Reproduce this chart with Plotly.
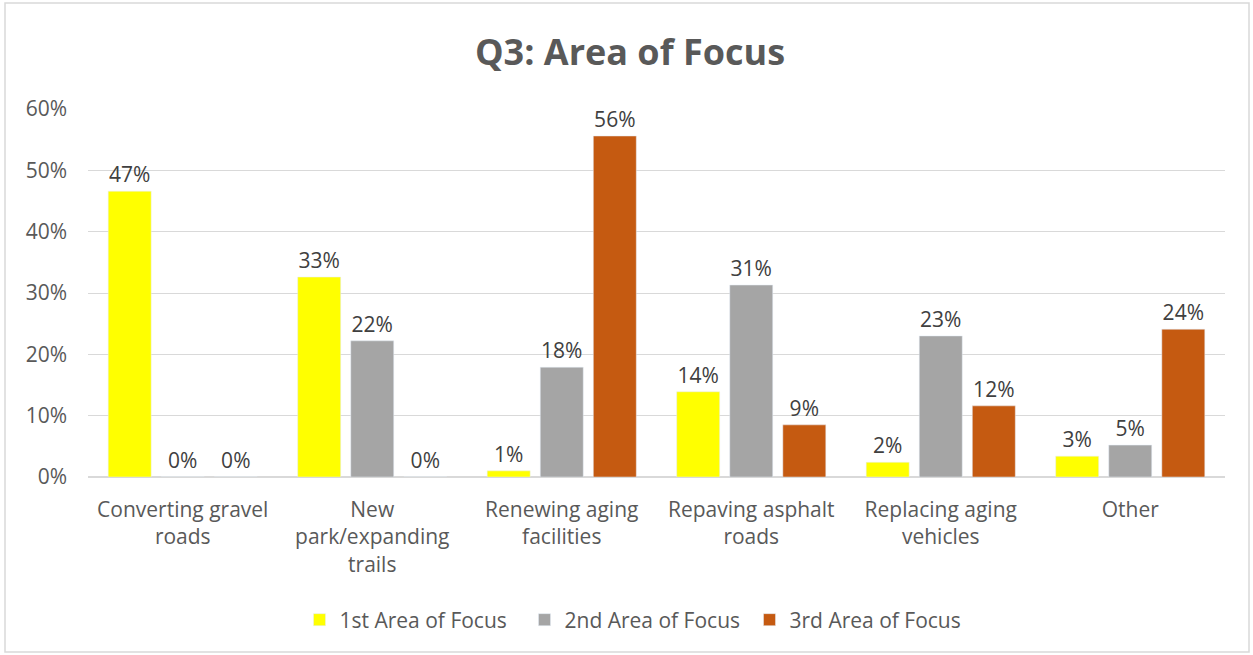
import plotly.graph_objects as go

categories = ["Converting gravel<br>roads", "New<br>park/expanding<br>trails", "Renewing aging<br>facilities",
              "Repaving asphalt<br>roads", "Replacing aging<br>vehicles", "Other"]
first = [0.466, 0.326, 0.010, 0.139, 0.024, 0.034]
second = [0.0, 0.222, 0.179, 0.313, 0.230, 0.052]
third = [0.0, 0.0, 0.556, 0.085, 0.116, 0.241]
series_names = ["1st Area of Focus", "2nd Area of Focus", "3rd Area of Focus"]
colors = ["#FFFF00", "#A5A5A5", "#C55A11"]
tick_vals = [0, 0.1, 0.2, 0.3, 0.4, 0.5, 0.6]

FONT = "Open Sans"
FS = 21
fig = go.Figure()
for name, vals, col in zip(series_names, [first, second, third], colors):
    fig.add_trace(go.Bar(
        x=categories, y=vals, name=name, marker_color=col,
        text=vals, texttemplate="%{y:.0%}", textposition="outside",
        textfont=dict(family=FONT, size=FS, color="#404040"), cliponaxis=False,
    ))

W, H = 1253, 655
l, r, t, b = 88, 28, 109, 178
pw, ph = W - l - r, H - t - b
fig.add_shape(type="rect", xref="paper", yref="paper",
              x0=(5 - l) / pw, x1=(W - 4 - l) / pw,
              y0=(H - b - (H - 3)) / ph, y1=(H - b - 3) / ph,
              line=dict(color="#D9D9D9", width=1.5), layer="below")

fig.update_layout(
    width=W, height=H, margin=dict(l=l, r=r, t=t, b=b),
    paper_bgcolor="white", plot_bgcolor="white",
    title=dict(text="<b>Q3: Area of Focus</b>", x=630 / W, xref="container", xanchor="center",
               y=1 - 52 / H, yanchor="middle",
               font=dict(family=FONT, size=36, color="#595959")),
    barmode="group", bargap=0.16, bargroupgap=0.19,
    font=dict(family=FONT, size=FS, color="#595959"),
    legend=dict(orientation="h", x=(637 - l) / pw, xanchor="center", y=(H - b - 620) / ph, yanchor="middle",
                font=dict(family=FONT, size=FS, color="#595959"), traceorder="normal",
                entrywidth=180),
    yaxis=dict(range=[0, 0.6], tickvals=tick_vals, tickformat=".0%", gridcolor="#D9D9D9",
               zeroline=True, zerolinecolor="#D9D9D9", zerolinewidth=1.5, ticks="", ticklabelstandoff=20,
               tickfont=dict(family=FONT, size=FS, color="#595959")),
    xaxis=dict(tickfont=dict(family=FONT, size=FS, color="#595959"), ticks="", ticklabelstandoff=18),
)
fig.write_html("out.html", config={"displayModeBar": False},
               post_script="document.body.style.margin='0px';")
